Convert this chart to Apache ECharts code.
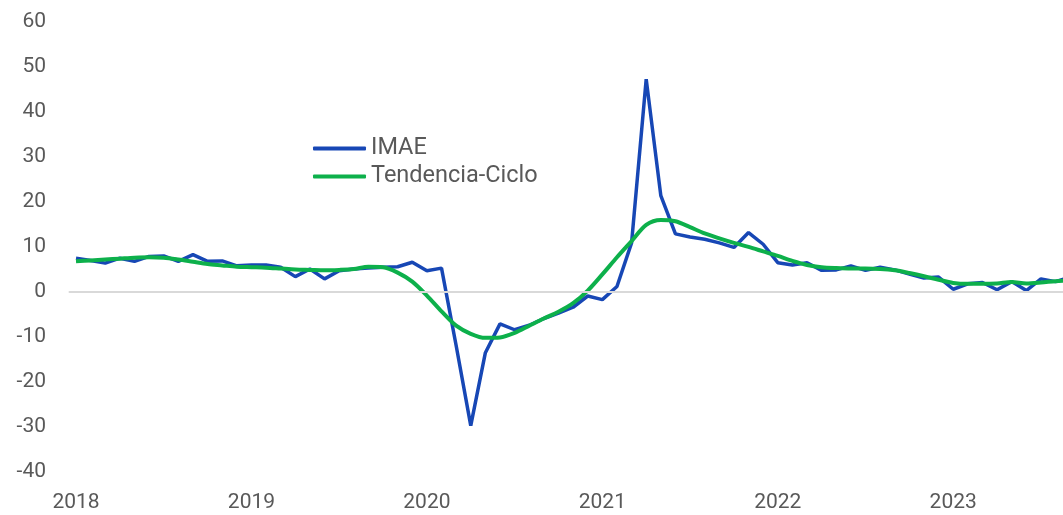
<!DOCTYPE html>
<html>
<head>
<meta charset="utf-8">
<script src="https://cdn.jsdelivr.net/npm/echarts@6/dist/echarts.min.js"></script>
<style>
  html, body { margin: 0; padding: 0; background: #fff; }
  #main { width: 1063px; height: 515px; }
</style>
</head>
<body>
<div id="main"></div>
<script>
var myChart = echarts.init(document.getElementById('main'));

// meses desde ene-2018 hasta sep-2023
var years = [2018, 2019, 2020, 2021, 2022, 2023];
var lastMonth2023 = 9;

var imae = [
  7.4, 6.9, 6.3, 7.4, 6.7, 7.8, 7.9, 6.7, 8.2, 6.7, 6.8, 5.7,
  5.9, 5.9, 5.4, 3.3, 5.0, 2.8, 4.6, 5.0, 5.2, 5.4, 5.5, 6.5,
  4.6, 5.2, -12.0, -29.8, -13.6, -7.2, -8.5, -7.5, -6.0, -4.8, -3.5, -1.0,
  -1.8, 1.1, 10.8, 47.2, 21.3, 12.8, 12.1, 11.6, 10.8, 9.8, 13.1, 10.5,
  6.4, 5.9, 6.4, 4.7, 4.8, 5.7, 4.7, 5.4, 4.8, 3.9, 3.0, 3.2,
  0.5, 1.7, 2.0, 0.4, 2.2, 0.2, 2.8, 2.2, 3.2
];

var tendencia = [
  6.7, 6.9, 7.1, 7.3, 7.5, 7.6, 7.5, 7.1, 6.6, 6.1, 5.8, 5.5,
  5.4, 5.3, 5.1, 4.9, 4.8, 4.7, 4.8, 5.0, 5.5, 5.4, 4.2, 2.2,
  -0.9, -4.4, -7.6, -9.4, -10.3, -10.2, -9.2, -7.6, -6.0, -4.5, -2.6, 0.2,
  3.8, 7.6, 11.2, 14.8, 15.9, 15.6, 14.3, 12.9, 11.8, 10.8, 9.9, 8.9,
  7.9, 6.8, 5.9, 5.4, 5.2, 5.1, 5.1, 5.0, 4.7, 4.1, 3.4, 2.6,
  1.9, 1.7, 1.7, 1.8, 2.1, 1.8, 2.0, 2.3, 2.5
];

var categories = [];
years.forEach(function (y) {
  var n = (y === 2023) ? lastMonth2023 : 12;
  for (var m = 1; m <= n; m++) {
    categories.push(y + '-' + (m < 10 ? '0' + m : m));
  }
});

var gris = '#595959';

option = {
  animation: false,
  textStyle: { fontFamily: 'Roboto' },
  grid: {
    left: 68.7,
    width: 1008.8,
    top: 21.5,
    bottom: 43.5,
    containLabel: false,
    outerBoundsMode: 'none'
  },
  legend: {
    orient: 'vertical',
    left: 313,
    top: 136.5,
    padding: 0,
    itemWidth: 53,
    itemHeight: 4,
    itemGap: 4,
    textStyle: { fontSize: 23.5, color: gris, lineHeight: 23 },
    data: [
      { name: 'IMAE', icon: 'roundRect' },
      { name: 'Tendencia-Ciclo', icon: 'roundRect' }
    ]
  },
  xAxis: {
    type: 'category',
    data: categories,
    boundaryGap: true,
    axisLine: { show: false },
    axisTick: { show: false },
    splitLine: { show: false },
    axisLabel: {
      interval: 11,
      margin: 21,
      fontSize: 21,
      color: gris,
      formatter: function (v) { return v.slice(0, 4); }
    }
  },
  yAxis: {
    type: 'value',
    min: -40,
    max: 60,
    interval: 10,
    axisLine: { show: false },
    axisTick: { show: false },
    splitLine: { show: false },
    axisLabel: { fontSize: 21, color: gris, margin: 22.7 }
  },
  series: [
    {
      name: 'IMAE',
      type: 'line',
      data: imae,
      symbol: 'none',
      z: 2,
      lineStyle: { color: '#1747b5', width: 3.5 },
      itemStyle: { color: '#1747b5' },
      markLine: {
        silent: true,
        symbol: 'none',
        label: { show: false },
        lineStyle: { color: '#d9d9d9', width: 2, type: 'solid' },
        data: [{ yAxis: 0 }]
      }
    },
    {
      name: 'Tendencia-Ciclo',
      type: 'line',
      data: tendencia,
      symbol: 'none',
      smooth: 0.3,
      z: 3,
      lineStyle: { color: '#0db04b', width: 4 },
      itemStyle: { color: '#0db04b' }
    }
  ]
};

myChart.setOption(option);
</script>
</body>
</html>
